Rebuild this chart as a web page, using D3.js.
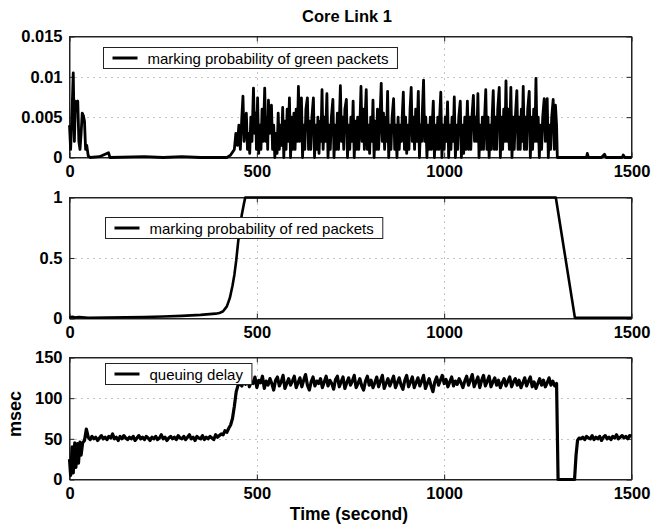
<!doctype html>
<html lang="en">
  <head>
    <meta charset="utf-8">
    <title>Core Link 1</title>
    <style>
      body { margin: 0; background: #fff; }
      svg text { font-family: "Liberation Sans", Arial, Helvetica, sans-serif; fill: #000; }
      .tick text { font-weight: bold; font-size: 16.5px; }
    </style>
  </head>
  <body>
    <div id="chart"></div>

    <script src="https://d3js.org/d3.v7.min.js"></script>

    <script>
      // Tick values and labels
      var timeTicks = [0, 500, 1000, 1500];
      var timeLabels = ["0", "500", "1000", "1500"];
      var greenTicks = [0, 0.005, 0.01, 0.015];
      var greenLabels = ["0", "0.005", "0.01", "0.015"];
      var redTicks = [0, 0.5, 1];
      var redLabels = ["0", "0.5", "1"];
      var delayTicks = [0, 50, 100, 150];
      var delayLabels = ["0", "50", "100", "150"];

      // Series, [time (s), value]
      var greenMarking = [
        [0,0.004],[3,0.001],[7,0.006],[10,0.0105],[13,0.002],[16,0.007],[19,0.0068],[22,0.007],[25,0.002],
        [28,0.001],[31,0.003],[34,0.0055],[37,0.0052],[40,0.0045],[43,0.001],[46,0.0015],[50,0.0002],[55,0],
        [80,0.0001],[104,0.0006],[108,0],[200,0.0001],[250,0],[300,0.0001],[350,0],[420,0],[430,0.0003],
        [440,0.001],[444,0.003],[448,0.0015],[452,0.004],[456,0.001],[460,0.005],[463,0.0076],[466,0.002],
        [469,0.004],[472,0.0055],[475,0.001],[478,0.003],[481,0.0005],[484,0.005],[487,0.002],[491,0.0086],
        [494,0.003],[497,0.0055],[499,0.001],[502,0.0074],[505,0.0005],[508,0.004],[511,0.001],[514,0.006],
        [517,0.002],[521,0.0086],[524,0.002],[527,0.005],[529,0.001],[531,0.0071],[534,0.003],[536,0.0045],
        [539,0.0065],[542,0.001],[545,0.004],[548,0],[551,0.003],[554,0.0005],[557,0.0055],[560,0.001],
        [563,0.004],[566,0.0015],[569,0.0062],[572,0],[575,0.0045],[578,0.001],[581,0.006],[584,0.002],
        [587,0.0074],[590,0],[593,0.005],[596,0.001],[599,0.0055],[602,0.001],[605,0.006],[608,0.002],
        [611,0.0088],[614,0.002],[616,0.005],[619,0.0074],[622,0],[625,0.004],[628,0.001],[631,0.006],
        [635,0.0074],[638,0.001],[641,0.0045],[644,0.001],[647,0.005],[651,0.0074],[654,0],[657,0.004],
        [660,0.001],[663,0.005],[666,0.0005],[669,0.0045],[671,0.002],[674,0.0084],[677,0.001],[680,0.005],
        [683,0.002],[687,0.0079],[690,0],[693,0.004],[696,0.001],[699,0.005],[703,0.0072],[706,0],[709,0.004],
        [712,0.001],[715,0.0055],[718,0.001],[720,0.004],[723,0.0089],[726,0.002],[729,0.005],[732,0.001],
        [735,0.006],[739,0.0072],[742,0],[745,0.004],[748,0.001],[751,0.005],[754,0.002],[757,0.007],[760,0],
        [763,0.0045],[766,0.001],[769,0.005],[772,0.001],[775,0.004],[778,0.0088],[781,0.002],[784,0.006],
        [787,0.001],[789,0.005],[792,0.0084],[795,0.001],[798,0.004],[801,0.0005],[804,0.005],[807,0.002],
        [810,0.0071],[813,0],[816,0.0045],[819,0.001],[822,0.006],[825,0.001],[828,0.004],[832,0.0092],
        [835,0.002],[838,0.0055],[841,0.001],[844,0.005],[846,0.002],[849,0.0082],[852,0],[855,0.004],
        [858,0.001],[861,0.005],[865,0.0073],[868,0.001],[871,0.004],[874,0],[877,0.005],[880,0.001],
        [883,0.004],[886,0.002],[888,0.005],[891,0.0081],[894,0.001],[897,0.005],[900,0.0005],[903,0.004],
        [906,0.001],[909,0.006],[912,0.0087],[915,0.002],[918,0.005],[921,0.001],[924,0.006],[927,0.002],
        [931,0.0082],[934,0],[937,0.004],[940,0.002],[942,0.006],[945,0.0096],[948,0.002],[951,0.005],[954,0],
        [957,0.004],[960,0.001],[963,0.005],[966,0.001],[968,0.004],[971,0.007],[974,0],[977,0.004],[980,0.001],
        [983,0.005],[986,0.001],[988,0.005],[991,0.0081],[994,0],[997,0.004],[1000,0.001],[1003,0.005],
        [1006,0.002],[1009,0.0069],[1012,0],[1015,0.004],[1018,0.001],[1021,0.005],[1024,0.002],[1027,0.0075],
        [1030,0],[1033,0.004],[1036,0.001],[1039,0.005],[1043,0.007],[1046,0],[1049,0.004],[1052,0.0005],
        [1055,0.005],[1058,0.001],[1062,0.007],[1065,0.001],[1068,0.005],[1071,0.001],[1074,0.005],
        [1078,0.0077],[1081,0.002],[1084,0.005],[1087,0.002],[1090,0.0079],[1093,0],[1096,0.004],[1099,0.001],
        [1102,0.005],[1105,0.001],[1108,0.005],[1111,0.0084],[1114,0.001],[1117,0.005],[1120,0],[1123,0.004],
        [1126,0.001],[1128,0.005],[1131,0.0083],[1134,0.001],[1137,0.005],[1140,0.001],[1143,0.006],
        [1147,0.0087],[1150,0],[1153,0.005],[1156,0.001],[1159,0.006],[1162,0.002],[1165,0.0095],[1168,0.002],
        [1171,0.006],[1174,0.001],[1178,0.0087],[1181,0],[1184,0.005],[1187,0.001],[1190,0.005],[1194,0.0083],
        [1197,0.001],[1200,0.005],[1203,0.001],[1206,0.006],[1208,0.002],[1211,0.0088],[1214,0.001],
        [1217,0.005],[1220,0.001],[1223,0.006],[1227,0.0082],[1230,0],[1233,0.005],[1236,0.001],[1239,0.006],
        [1242,0.002],[1245,0.0098],[1248,0.002],[1251,0.005],[1254,0],[1257,0.004],[1260,0.001],[1263,0.005],
        [1267,0.0073],[1270,0.002],[1272,0.004],[1275,0.0073],[1278,0],[1281,0.004],[1284,0.001],[1287,0.005],
        [1291,0.0072],[1294,0.001],[1297,0.0065],[1300,0.004],[1302,0],[1340,0],
        [1380,0],[1382,0.0005],[1385,0],[1420,0],[1428,0.0004],[1432,0],[1475,0],[1478,0.0003],[1482,0],[1500,0]
      ];

      var redMarking = [
        [0,0.01],[8,0.015],[15,0.008],[25,0.012],[50,0.006],[100,0.008],[150,0.01],[200,0.013],[250,0.017],
        [300,0.022],[350,0.03],[390,0.04],[400,0.045],[410,0.06],[420,0.1],[428,0.17],[435,0.27],[440,0.36],
        [445,0.48],[450,0.63],[455,0.76],[460,0.86],[465,0.94],[469,1],[1298,1],[1349,0.005],[1500,0.005]
      ];

      var queueDelay = [
        [0,25],[3,5],[7,40],[10,8],[14,45],[17,15],[21,44],[24,20],[28,46],[31,30],[35,45],[40,48],[45,62],
        [50,52],[55,49],[60,53],[65,50],[70,52],[75,48],[80,51],[85,54],[90,50],[95,52],[100,49],[105,53],
        [110,51],[115,56],[120,50],[125,52],[130,48],[135,53],[140,50],[145,54],[150,51],[155,49],[160,52],
        [165,50],[170,53],[175,48],[180,51],[185,54],[190,50],[195,52],[200,49],[205,53],[210,51],[215,48],
        [220,52],[225,50],[230,53],[235,49],[240,51],[245,55],[250,50],[255,52],[260,48],[265,51],[270,53],
        [275,50],[280,52],[285,49],[290,54],[295,51],[300,50],[305,53],[310,49],[315,52],[320,55],[325,50],
        [330,52],[335,48],[340,53],[345,51],[350,50],[355,54],[360,49],[365,52],[370,50],[375,53],[380,51],
        [385,49],[390,55],[395,52],[400,54],[405,56],[410,55],[415,60],[420,58],[425,63],[430,67],[435,75],
        [440,90],[445,108],[450,116],[455,118],[460,115],[465,122],[470,117],[475,125],[480,114],[485,120],
        [490,118],[495,126],[500,113],[505,122],[510,119],[515,127],[520,112],[525,121],[530,116],[535,124],
        [540,118],[545,110],[550,122],[555,126],[560,115],[565,120],[570,128],[575,112],[580,118],[585,124],
        [590,116],[595,121],[600,127],[605,113],[610,119],[615,125],[620,114],[625,122],[630,129],[635,116],
        [640,110],[645,120],[650,126],[655,115],[660,121],[665,118],[670,124],[675,113],[680,120],[685,127],
        [690,115],[695,122],[700,118],[705,111],[710,123],[715,127],[720,114],[725,120],[730,126],[735,112],
        [740,119],[745,125],[750,116],[755,121],[760,128],[765,113],[770,118],[775,124],[780,115],[785,110],
        [790,121],[795,127],[800,116],[805,122],[810,113],[815,119],[820,126],[825,114],[830,121],[835,128],
        [840,112],[845,118],[850,124],[855,115],[860,121],[865,127],[870,113],[875,119],[880,125],[885,116],
        [890,111],[895,122],[900,128],[905,114],[910,120],[915,126],[920,113],[925,119],[930,125],[935,115],
        [940,121],[945,128],[950,112],[955,118],[960,124],[965,115],[970,108],[975,120],[980,126],[985,116],
        [990,122],[995,128],[1000,118],[1005,123],[1010,114],[1015,120],[1020,126],[1025,115],[1030,121],
        [1035,117],[1040,124],[1045,119],[1050,113],[1055,121],[1060,127],[1065,116],[1070,122],[1075,129],
        [1080,114],[1085,120],[1090,126],[1095,113],[1100,122],[1105,128],[1110,115],[1115,121],[1120,127],
        [1125,114],[1130,120],[1135,125],[1140,116],[1145,122],[1150,113],[1155,119],[1160,124],[1165,115],
        [1170,121],[1175,126],[1180,114],[1185,120],[1190,124],[1195,116],[1200,122],[1205,113],[1210,119],
        [1215,125],[1220,115],[1225,121],[1230,126],[1235,114],[1240,120],[1245,112],[1250,118],[1255,124],
        [1260,116],[1265,122],[1270,114],[1275,119],[1280,125],[1285,116],[1290,121],[1295,115],[1300,118],
        [1302,60],[1304,0],[1320,0],[1335,0],[1348,0],[1352,30],[1356,48],[1360,51],[1365,50],[1370,52],
        [1375,49],[1380,53],[1385,51],[1390,50],[1395,54],[1400,49],[1405,52],[1410,50],[1415,53],[1420,48],
        [1425,52],[1430,54],[1435,50],[1440,52],[1445,49],[1450,53],[1455,51],[1460,55],[1465,50],[1470,52],
        [1475,54],[1480,51],[1485,53],[1490,50],[1495,54],[1500,53]
      ];

      var width = 652, height = 532;
      var left = 69.5, right = 631.5;

      var svg = d3.select("#chart")
        .append("svg")
        .attr("width", width)
        .attr("height", height);

      svg.append("rect").attr("width", width).attr("height", height).attr("fill", "#fff");

      var x = d3.scaleLinear().domain([0, 1500]).range([left, right]);

      function drawPanel(p) {
        var y = d3.scaleLinear().domain(p.domain).range([p.bottom, p.top]);
        var g = svg.append("g");

        // dotted grid
        var gx = timeTicks.filter(function(d) { return d > 0 && d < 1500; });
        var gy = p.ticks.filter(function(d) { return d > p.domain[0] && d < p.domain[1]; });
        g.selectAll(".vgrid").data(gx).enter().append("line")
          .attr("x1", function(d) { return Math.round(x(d)) + 0.5; })
          .attr("x2", function(d) { return Math.round(x(d)) + 0.5; })
          .attr("y1", p.top).attr("y2", p.bottom)
          .attr("stroke", "#888").attr("stroke-dasharray", "1,5");
        g.selectAll(".hgrid").data(gy).enter().append("line")
          .attr("x1", left).attr("x2", right)
          .attr("y1", function(d) { return Math.round(y(d)) + 0.5; })
          .attr("y2", function(d) { return Math.round(y(d)) + 0.5; })
          .attr("stroke", "#888").attr("stroke-dasharray", "1,5");

        // axes, ticks pointing in
        g.append("g")
          .attr("transform", "translate(0," + p.bottom + ")")
          .call(d3.axisBottom(x).tickValues(timeTicks).tickSizeInner(-5).tickSizeOuter(0).tickPadding(8)
            .tickFormat(function(d, i) { return timeLabels[i]; }));
        g.append("g")
          .attr("transform", "translate(0," + p.top + ")")
          .call(d3.axisTop(x).tickValues(timeTicks).tickSizeInner(-5).tickSizeOuter(0).tickFormat(""));
        g.append("g")
          .attr("transform", "translate(" + left + ",0)")
          .call(d3.axisLeft(y).tickValues(p.ticks).tickSizeInner(-5).tickSizeOuter(0).tickPadding(7)
            .tickFormat(function(d, i) { return p.labels[i]; }));
        g.append("g")
          .attr("transform", "translate(" + right + ",0)")
          .call(d3.axisRight(y).tickValues(p.ticks).tickSizeInner(-5).tickSizeOuter(0).tickFormat(""));

        g.selectAll(".domain").attr("stroke", "#222");
        g.selectAll(".tick line").attr("stroke", "#222");

        // frame
        g.append("rect")
          .attr("x", left).attr("y", p.top)
          .attr("width", right - left).attr("height", p.bottom - p.top)
          .attr("fill", "none").attr("stroke", "#222");

        // series
        var line = d3.line()
          .x(function(d) { return x(d[0]); })
          .y(function(d) { return y(d[1]); });
        g.append("path")
          .datum(p.data)
          .attr("d", line)
          .attr("fill", "none")
          .attr("stroke", "#000")
          .attr("stroke-width", p.lw)
          .attr("stroke-linejoin", "round");

        // legend
        var lg = g.append("g").attr("transform", "translate(" + p.legX + "," + p.legY + ")");
        var box = lg.append("rect").attr("height", 21).attr("fill", "#fff").attr("stroke", "#222");
        lg.append("line").attr("x1", 9).attr("x2", 34).attr("y1", 10.5).attr("y2", 10.5)
          .attr("stroke", "#000").attr("stroke-width", 3);
        var txt = lg.append("text").attr("x", 44).attr("y", 16)
          .style("font-size", "15px").text(p.legend);
        box.attr("width", 44 + txt.node().getComputedTextLength() + 9);
      }

      drawPanel({ top: 36.5, bottom: 157.5, domain: [0, 0.015], ticks: greenTicks, labels: greenLabels,
        data: greenMarking, lw: 2.8, legend: "marking probability of green packets", legX: 103.5, legY: 47.5 });
      drawPanel({ top: 197.5, bottom: 318.5, domain: [0, 1], ticks: redTicks, labels: redLabels,
        data: redMarking, lw: 2.6, legend: "marking probability of red packets", legX: 105.5, legY: 217.5 });
      drawPanel({ top: 357.5, bottom: 479.5, domain: [0, 150], ticks: delayTicks, labels: delayLabels,
        data: queueDelay, lw: 3.2, legend: "queuing delay", legX: 105.5, legY: 363.5 });

      // titles
      svg.append("text").attr("x", 347).attr("y", 21.5).attr("text-anchor", "middle")
        .style("font-weight", "bold").style("font-size", "16.5px").text("Core Link 1");
      svg.append("text").attr("x", 349).attr("y", 520).attr("text-anchor", "middle")
        .style("font-weight", "bold").style("font-size", "17.5px").text("Time (second)");
      svg.append("text").attr("transform", "translate(21,414) rotate(-90)").attr("text-anchor", "middle")
        .style("font-weight", "bold").style("font-size", "18px").text("msec");
    </script>
  </body>
</html>
